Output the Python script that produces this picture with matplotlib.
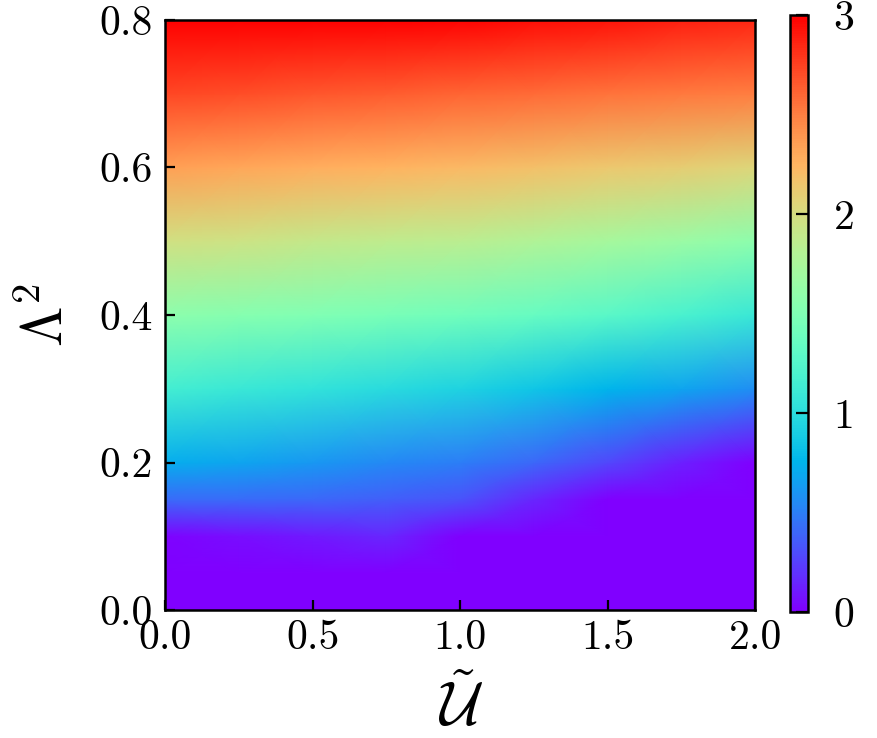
import numpy as np
import matplotlib
matplotlib.use("Agg")
import matplotlib.pyplot as plt
from matplotlib.ticker import FormatStrFormatter

plt.rcParams['font.family'] = 'serif'
plt.rcParams['font.serif'] = ['cmr10']
plt.rcParams['mathtext.fontset'] = 'cm'
plt.rcParams['axes.formatter.use_mathtext'] = True

# grid: U along x, Lambda^2 along y
U = [0.0, 0.25, 0.5, 0.75, 1.0, 1.25, 1.5, 1.75, 2.0]
L2 = [0.0, 0.05, 0.1, 0.15, 0.2, 0.3, 0.4, 0.5, 0.6, 0.7, 0.8]

row_000 = [-0.5, -0.5, -0.5, -0.5, -0.5, -0.6, -0.7, -0.8, -0.9]
row_005 = [-0.2, -0.2, -0.15, -0.05, -0.2, -0.4, -0.5, -0.6, -0.7]
row_010 = [0.02, 0.05, 0.1, 0.15, 0.0, -0.2, -0.3, -0.4, -0.5]
row_015 = [0.42, 0.42, 0.4, 0.37, 0.32, 0.15, -0.05, -0.15, -0.25]
row_020 = [0.72, 0.67, 0.61, 0.55, 0.5, 0.4, 0.27, 0.12, 0.0]
row_030 = [1.15, 1.1, 1.05, 0.99, 0.93, 0.85, 0.76, 0.67, 0.57]
row_040 = [1.58, 1.54, 1.5, 1.46, 1.41, 1.35, 1.28, 1.19, 1.09]
row_050 = [1.98, 1.95, 1.91, 1.87, 1.84, 1.79, 1.73, 1.66, 1.58]
row_060 = [2.35, 2.32, 2.28, 2.25, 2.22, 2.18, 2.14, 2.1, 2.05]
row_070 = [2.73, 2.7, 2.67, 2.64, 2.61, 2.58, 2.55, 2.52, 2.5]
row_080 = [3.0, 3.0, 3.0, 3.0, 2.98, 2.95, 2.92, 2.88, 2.85]

Z = np.array([row_000, row_005, row_010, row_015, row_020, row_030,
              row_040, row_050, row_060, row_070, row_080])

fig = plt.figure(figsize=(8.78, 7.38), dpi=100)
ax = fig.add_axes([0.188, 0.1734, 0.672, 0.7996])
cax = fig.add_axes([0.9, 0.1707, 0.0205, 0.809])

mesh = ax.pcolormesh(U, L2, Z, cmap='rainbow', vmin=0, vmax=3, shading='gouraud')
ax.set_xlim(0, 2)
ax.set_ylim(0, 0.8)
ax.set_xticks([0.0, 0.5, 1.0, 1.5, 2.0])
ax.set_yticks([0.0, 0.2, 0.4, 0.6, 0.8])
ax.xaxis.set_major_formatter(FormatStrFormatter('%.1f'))
ax.yaxis.set_major_formatter(FormatStrFormatter('%.1f'))
ax.tick_params(direction='in', length=7, width=1.6, labelsize=30)
ax.tick_params(axis='y', pad=9)
ax.tick_params(axis='x', pad=7)
for s in ax.spines.values():
    s.set_linewidth(1.8)

ax.set_xlabel(r'$\tilde{\mathcal{U}}$', fontsize=44, labelpad=14)
ax.set_ylabel(r'$\Lambda^2$', fontsize=42, labelpad=18)

cb = fig.colorbar(mesh, cax=cax, ticks=[0, 1, 2, 3])
cb.ax.tick_params(direction='in', length=9, width=1.6, labelsize=30, pad=18)
cb.outline.set_linewidth(1.8)

fig.savefig('out.png', dpi=100)
